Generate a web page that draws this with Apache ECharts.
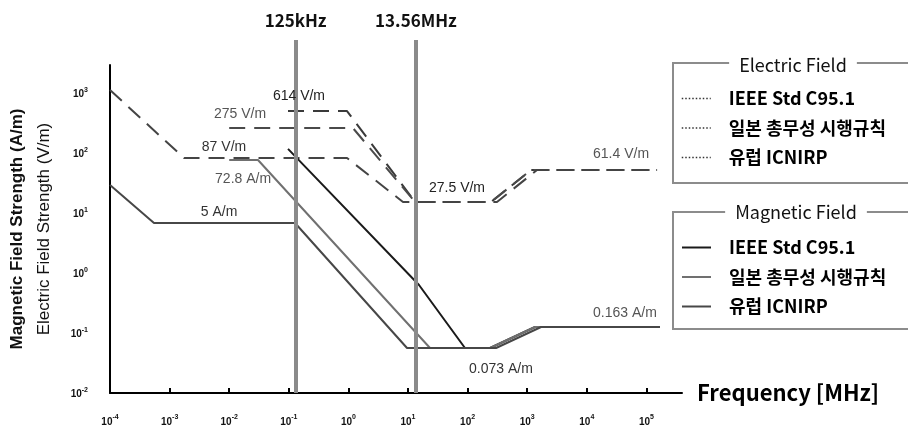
<!DOCTYPE html>
<html><head><meta charset="utf-8">
<script src="https://cdn.jsdelivr.net/npm/echarts@6/dist/echarts.min.js"></script>
<style>html,body{margin:0;padding:0;background:#fff}#c{width:908px;height:429px}</style>
</head><body><div id="c"></div>
<script>
// ---- data (frequency in MHz, field strength in A/m or V/m) ----
const xTicks = [1e-4, 1e-3, 1e-2, 1e-1, 1, 10, 100, 1e3, 1e4, 1e5];
const yTicks = [1e-2, 1e-1, 1, 10, 100, 1e3];
const markerFreqs = [0.125, 13.56];
const markerLabels = ['125kHz', '13.56MHz'];

const elecIEEE   = [[0.097, 501], [0.948, 501], [13.1, 15.3], [247, 15.3], [1159, 52.1], [1.51e5, 52.1]];
const elecJapan  = [[0.01, 261], [1.19, 261], [13.1, 15.3], [247, 15.3], [1159, 52.1], [1.51e5, 52.1]];
const elecICNIRP = [[1e-4, 1122], [0.00175, 82.5], [0.948, 82.5], [8.24, 15.3], [311, 15.3], [1459, 52.1], [1.51e5, 52.1]];

const magIEEE   = [[0.097, 117], [15.3, 0.631], [90.3, 0.0562], [238, 0.0562], [1352, 0.126], [1.69e5, 0.126]];
const magJapan  = [[0.01, 76.4], [0.0304, 76.4], [23.4, 0.0562], [238, 0.0562], [1352, 0.126], [1.69e5, 0.126]];
const magICNIRP = [[1e-4, 29.3], [5.47e-4, 6.81], [0.127, 6.81], [9.62, 0.0562], [300, 0.0562], [1706, 0.126], [1.69e5, 0.126]];

const noteTexts  = ['614 V/m', '275 V/m', '87 V/m', '72.8 A/m', '5 A/m', '27.5 V/m', '61.4 V/m', '0.163 A/m', '0.073 A/m'];
const noteFreqs  = [0.148, 0.0152, 0.00818, 0.0171, 0.00675, 66.4, 37500, 43700, 363];
const noteValues = [891, 447, 126, 36.9, 10.4, 26.1, 96.2, 0.215, 0.0251];

const legendNames = {
  E1: 'IEEE Std C95.1', E2: '일본 총무성 시행규칙', E3: '유럽 ICNIRP',
  H1: 'IEEE Std C95.1', H2: '일본 총무성 시행규칙', H3: '유럽 ICNIRP'
};

// ---- chart ----
const KR = '"Noto Sans CJK KR", sans-serif';
const AR = '"Liberation Sans", Arial, sans-serif';
const noteColors = ['#222', '#555', '#333', '#555', '#333', '#222', '#555', '#555', '#333'];

function supLabel(v) {
  const e = Math.round(Math.log10(v));
  return '{b|10}{s|' + e + '}';
}
const tickRich = {
  b: { fontSize: 10, fontWeight: 'bold', fontFamily: AR, color: '#111', lineHeight: 13, verticalAlign: 'bottom' },
  s: { fontSize: 7, fontWeight: 'bold', fontFamily: AR, color: '#111', lineHeight: 13, verticalAlign: 'top' }
};

const xMax = Math.pow(10, 5.597);
const yMax = Math.pow(10, 3.467);
const grids = [
  { left: 110, right: 226, top: 65, bottom: 36 },
  { left: 110, right: 226, top: 40, bottom: 36 }
];

function lineSeries(name, data, color, dashed) {
  return {
    name, type: 'line', data, symbol: 'none', silent: true,
    xAxisIndex: 0, yAxisIndex: 0, z: 3,
    lineStyle: { color, width: 2, type: dashed ? [16, 9] : 'solid' },
    itemStyle: { color }
  };
}

const series = [
  lineSeries('E1', elecIEEE, '#3a3a3a', true),
  lineSeries('E2', elecJapan, '#4a4a4a', true),
  lineSeries('E3', elecICNIRP, '#444', true),
  lineSeries('H1', magIEEE, '#1a1a1a', false),
  lineSeries('H2', magJapan, '#707070', false),
  lineSeries('H3', magICNIRP, '#474747', false)
];
series[5].markPoint = {
  silent: true, symbol: 'circle', symbolSize: 0,
  label: { show: true, position: 'inside', fontSize: 14, fontFamily: AR },
  data: noteTexts.map((t, i) => ({
    coord: [noteFreqs[i], noteValues[i]],
    label: { formatter: t, color: noteColors[i] }
  }))
};
series.push({
  name: 'markers', type: 'line', xAxisIndex: 1, yAxisIndex: 1, z: 6,
  data: [[1e-4, 0]], symbol: 'none', silent: true,
  markLine: {
    silent: true, symbol: ['none', 'none'], animation: false,
    lineStyle: { color: '#8a8a8a', width: 4, type: 'solid' },
    label: { show: true, position: 'end', distance: 11, fontSize: 17, fontWeight: 'bold', fontFamily: KR, color: '#111' },
    emphasis: { disabled: true },
    data: markerFreqs.map((f, i) => ({ xAxis: f, label: { formatter: markerLabels[i] } }))
  }
});

const legendText = { fontSize: 18, fontWeight: 'bold', fontFamily: KR, color: '#000', padding: [0, 0, 0, 13], lineHeight: 15 };
const option = {
  animation: false,
  backgroundColor: '#fff',
  grid: grids,
  xAxis: [{
    type: 'log', gridIndex: 0, min: 1e-4, max: xMax,
    axisLine: { show: true, lineStyle: { color: '#000', width: 2 } },
    axisTick: { show: true, inside: true, length: 5, lineStyle: { color: '#000', width: 2 }, customValues: xTicks },
    axisLabel: { margin: 21, customValues: xTicks, formatter: supLabel, rich: tickRich },
    splitLine: { show: false }, minorTick: { show: false },
    name: 'Frequency [MHz]', nameLocation: 'end', nameGap: 15,
    nameTextStyle: { fontSize: 22, fontWeight: 'bold', fontFamily: KR, color: '#000', verticalAlign: 'middle', align: 'left' }
  }, {
    type: 'log', gridIndex: 1, min: 1e-4, max: xMax, show: false
  }],
  yAxis: [{
    type: 'log', gridIndex: 0, min: 0.01, max: yMax,
    axisLine: { show: true, lineStyle: { color: '#000', width: 2 } },
    axisTick: { show: false },
    axisLabel: { margin: 22, customValues: yTicks, formatter: supLabel, rich: tickRich },
    splitLine: { show: false },
    name: '{a|Magnetic Field Strength (A/m)}\n{b|Electric Field Strength (V/m)}',
    nameLocation: 'middle', nameGap: 52, nameRotate: 90,
    nameTextStyle: {
      rich: {
        a: { fontSize: 17, fontWeight: 'bold', fontFamily: AR, color: '#111', lineHeight: 27 },
        b: { fontSize: 17, fontFamily: AR, color: '#111', lineHeight: 27 }
      }
    }
  }, {
    type: 'value', gridIndex: 1, min: 0, max: 1, show: false
  }],
  legend: [{
    data: ['E1', 'E2', 'E3'], orient: 'vertical', left: 676, top: 84.5, selectedMode: false,
    itemWidth: 29, itemHeight: 15, itemGap: 11.5, formatter: n => legendNames[n],
    textStyle: legendText,
    itemStyle: { opacity: 0 },
    lineStyle: { type: [1.5, 2], width: 1.5, color: '#333' }
  }, {
    data: ['H1', 'H2', 'H3'], orient: 'vertical', left: 676, top: 233.5, selectedMode: false,
    itemWidth: 29, itemHeight: 15, itemGap: 11.5, formatter: n => legendNames[n],
    textStyle: legendText,
    itemStyle: { opacity: 0 }
  }],
  graphic: [
    { type: 'rect', z: 1, shape: { x: 673, y: 63, width: 260, height: 120 }, style: { fill: 'none', stroke: '#8c8c8c', lineWidth: 2 } },
    { type: 'rect', z: 1, shape: { x: 673, y: 212, width: 260, height: 117 }, style: { fill: 'none', stroke: '#8c8c8c', lineWidth: 2 } },
    { type: 'text', z: 10, x: 793, y: 65, style: { text: 'Electric Field', align: 'center', verticalAlign: 'middle', font: '18px "Noto Sans CJK KR"', fill: '#111', backgroundColor: '#fff', padding: [0, 10] } },
    { type: 'text', z: 10, x: 796, y: 212, style: { text: 'Magnetic Field', align: 'center', verticalAlign: 'middle', font: '18px "Noto Sans CJK KR"', fill: '#111', backgroundColor: '#fff', padding: [0, 10] } }
  ],
  series
};
const chart = echarts.init(document.getElementById('c'), null, { renderer: 'canvas' });
chart.setOption(option);
</script>
</body></html>
